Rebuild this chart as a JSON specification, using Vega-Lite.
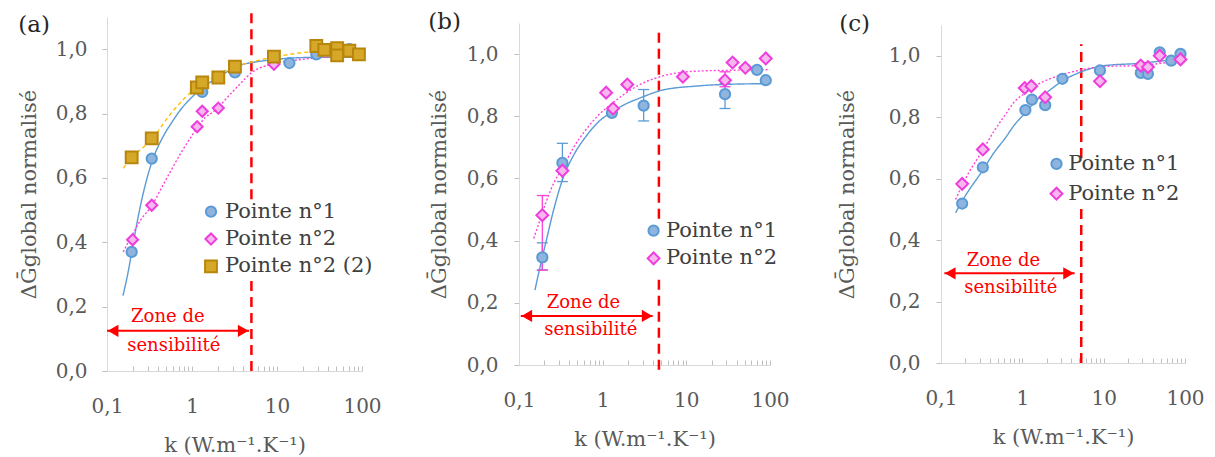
{
  "$schema": "https://vega.github.io/schema/vega-lite/v6.json",
  "background": "white",
  "padding": {"left": 18, "top": 10, "right": 4, "bottom": 0},
  "spacing": 46,
  "center": true,
  "config": {
    "font": "DejaVu Serif",
    "view": {"stroke": null},
    "axis": {
      "grid": false,
      "domainColor": "#d9d9d9",
      "tickColor": "#bfbfbf",
      "labelFont": "DejaVu Serif",
      "labelFontSize": 20,
      "labelColor": "#595959",
      "titleFont": "DejaVu Serif",
      "titleFontSize": 21,
      "titleFontWeight": "normal",
      "titleColor": "#595959",
      "labelOverlap": false,
      "labelFlush": false
    },
    "axisX": {"tickSize": -5, "labelPadding": 30, "titlePadding": 18},
    "axisY": {"tickSize": 5, "labelPadding": 15, "titlePadding": 16},
    "title": {"font": "DejaVu Serif", "fontSize": 23, "fontWeight": "normal", "color": "#262626", "anchor": "start", "frame": "bounds", "offset": -26}
  },
  "datasets": {
    "pts_a": [
      {"k": 0.195, "g": 0.37, "serie": "Pointe n°1"},
      {"k": 0.336, "g": 0.66, "serie": "Pointe n°1"},
      {"k": 1.32, "g": 0.867, "serie": "Pointe n°1"},
      {"k": 3.2, "g": 0.928, "serie": "Pointe n°1"},
      {"k": 14, "g": 0.957, "serie": "Pointe n°1"},
      {"k": 29, "g": 0.984, "serie": "Pointe n°1"},
      {"k": 71, "g": 1.0, "serie": "Pointe n°1"},
      {"k": 92, "g": 0.984, "serie": "Pointe n°1"},
      {"k": 0.2, "g": 0.408, "serie": "Pointe n°2"},
      {"k": 0.336, "g": 0.515, "serie": "Pointe n°2"},
      {"k": 1.15, "g": 0.759, "serie": "Pointe n°2"},
      {"k": 1.32, "g": 0.807, "serie": "Pointe n°2"},
      {"k": 2.04, "g": 0.817, "serie": "Pointe n°2"},
      {"k": 9.2, "g": 0.953, "serie": "Pointe n°2"},
      {"k": 0.195, "g": 0.664, "serie": "Pointe n°2 (2)"},
      {"k": 0.336, "g": 0.723, "serie": "Pointe n°2 (2)"},
      {"k": 1.14, "g": 0.881, "serie": "Pointe n°2 (2)"},
      {"k": 1.32, "g": 0.897, "serie": "Pointe n°2 (2)"},
      {"k": 2.04, "g": 0.912, "serie": "Pointe n°2 (2)"},
      {"k": 3.2, "g": 0.946, "serie": "Pointe n°2 (2)"},
      {"k": 9.2, "g": 0.977, "serie": "Pointe n°2 (2)"},
      {"k": 29, "g": 1.01, "serie": "Pointe n°2 (2)"},
      {"k": 36, "g": 0.998, "serie": "Pointe n°2 (2)"},
      {"k": 51, "g": 1.003, "serie": "Pointe n°2 (2)"},
      {"k": 51, "g": 0.981, "serie": "Pointe n°2 (2)"},
      {"k": 71, "g": 0.995, "serie": "Pointe n°2 (2)"},
      {"k": 92, "g": 0.984, "serie": "Pointe n°2 (2)"}
    ],
    "leg_a": [
      {"k": 1.673, "g": 0.495, "kt": 2.44, "serie": "Pointe n°1"},
      {"k": 1.673, "g": 0.41, "kt": 2.44, "serie": "Pointe n°2"},
      {"k": 1.673, "g": 0.325, "kt": 2.44, "serie": "Pointe n°2 (2)"}
    ],
    "fit_a": [
      {"k": 0.154, "g": 0.234, "courbe": "Pointe n°1"},
      {"k": 0.175, "g": 0.30, "courbe": "Pointe n°1"},
      {"k": 0.2, "g": 0.385, "courbe": "Pointe n°1"},
      {"k": 0.233, "g": 0.48, "courbe": "Pointe n°1"},
      {"k": 0.28, "g": 0.575, "courbe": "Pointe n°1"},
      {"k": 0.336, "g": 0.648, "courbe": "Pointe n°1"},
      {"k": 0.45, "g": 0.725, "courbe": "Pointe n°1"},
      {"k": 0.577, "g": 0.772, "courbe": "Pointe n°1"},
      {"k": 0.75, "g": 0.815, "courbe": "Pointe n°1"},
      {"k": 0.99, "g": 0.85, "courbe": "Pointe n°1"},
      {"k": 1.4, "g": 0.885, "courbe": "Pointe n°1"},
      {"k": 1.87, "g": 0.907, "courbe": "Pointe n°1"},
      {"k": 2.6, "g": 0.93, "courbe": "Pointe n°1"},
      {"k": 3.5, "g": 0.948, "courbe": "Pointe n°1"},
      {"k": 5.5, "g": 0.96, "courbe": "Pointe n°1"},
      {"k": 8.65, "g": 0.967, "courbe": "Pointe n°1"},
      {"k": 21, "g": 0.974, "courbe": "Pointe n°1"},
      {"k": 50, "g": 0.975, "courbe": "Pointe n°1"},
      {"k": 90, "g": 0.975, "courbe": "Pointe n°1"},
      {"k": 0.155, "g": 0.37, "courbe": "Pointe n°2"},
      {"k": 0.2, "g": 0.425, "courbe": "Pointe n°2"},
      {"k": 0.25, "g": 0.47, "courbe": "Pointe n°2"},
      {"k": 0.336, "g": 0.513, "courbe": "Pointe n°2"},
      {"k": 0.45, "g": 0.575, "courbe": "Pointe n°2"},
      {"k": 0.577, "g": 0.627, "courbe": "Pointe n°2"},
      {"k": 0.75, "g": 0.68, "courbe": "Pointe n°2"},
      {"k": 0.99, "g": 0.73, "courbe": "Pointe n°2"},
      {"k": 1.4, "g": 0.785, "courbe": "Pointe n°2"},
      {"k": 1.87, "g": 0.81, "courbe": "Pointe n°2"},
      {"k": 2.6, "g": 0.85, "courbe": "Pointe n°2"},
      {"k": 3.5, "g": 0.886, "courbe": "Pointe n°2"},
      {"k": 5.2, "g": 0.93, "courbe": "Pointe n°2"},
      {"k": 8.65, "g": 0.953, "courbe": "Pointe n°2"},
      {"k": 21, "g": 0.969, "courbe": "Pointe n°2"},
      {"k": 50, "g": 0.978, "courbe": "Pointe n°2"},
      {"k": 90, "g": 0.984, "courbe": "Pointe n°2"},
      {"k": 0.155, "g": 0.63, "courbe": "Pointe n°2 (2)"},
      {"k": 0.2, "g": 0.665, "courbe": "Pointe n°2 (2)"},
      {"k": 0.336, "g": 0.72, "courbe": "Pointe n°2 (2)"},
      {"k": 0.577, "g": 0.803, "courbe": "Pointe n°2 (2)"},
      {"k": 0.8, "g": 0.845, "courbe": "Pointe n°2 (2)"},
      {"k": 1.08, "g": 0.876, "courbe": "Pointe n°2 (2)"},
      {"k": 1.6, "g": 0.905, "courbe": "Pointe n°2 (2)"},
      {"k": 2.3, "g": 0.93, "courbe": "Pointe n°2 (2)"},
      {"k": 3.5, "g": 0.948, "courbe": "Pointe n°2 (2)"},
      {"k": 5.5, "g": 0.963, "courbe": "Pointe n°2 (2)"},
      {"k": 8.65, "g": 0.974, "courbe": "Pointe n°2 (2)"},
      {"k": 21, "g": 0.99, "courbe": "Pointe n°2 (2)"},
      {"k": 50, "g": 0.997, "courbe": "Pointe n°2 (2)"},
      {"k": 90, "g": 1.0, "courbe": "Pointe n°2 (2)"}
    ],
    "pts_b": [
      {"k": 0.19, "g": 0.346, "serie": "Pointe n°1"},
      {"k": 0.33, "g": 0.65, "serie": "Pointe n°1"},
      {"k": 1.29, "g": 0.811, "serie": "Pointe n°1"},
      {"k": 3.09, "g": 0.834, "serie": "Pointe n°1"},
      {"k": 29, "g": 0.871, "serie": "Pointe n°1"},
      {"k": 70, "g": 0.949, "serie": "Pointe n°1"},
      {"k": 89, "g": 0.916, "serie": "Pointe n°1"},
      {"k": 0.19, "g": 0.482, "serie": "Pointe n°2"},
      {"k": 0.33, "g": 0.625, "serie": "Pointe n°2"},
      {"k": 1.1, "g": 0.876, "serie": "Pointe n°2"},
      {"k": 1.33, "g": 0.825, "serie": "Pointe n°2"},
      {"k": 1.97, "g": 0.902, "serie": "Pointe n°2"},
      {"k": 9.1, "g": 0.927, "serie": "Pointe n°2"},
      {"k": 29, "g": 0.916, "serie": "Pointe n°2"},
      {"k": 35.7, "g": 0.973, "serie": "Pointe n°2"},
      {"k": 50.7, "g": 0.956, "serie": "Pointe n°2"},
      {"k": 89, "g": 0.986, "serie": "Pointe n°2"}
    ],
    "leg_b": [
      {"k": 4.06, "g": 0.432, "kt": 5.7, "serie": "Pointe n°1"},
      {"k": 4.06, "g": 0.343, "kt": 5.7, "serie": "Pointe n°2"}
    ],
    "err_b": [
      {"k": 0.19, "lo": 0.306, "hi": 0.393, "courbe": "Pointe n°1"},
      {"k": 0.33, "lo": 0.59, "hi": 0.713, "courbe": "Pointe n°1"},
      {"k": 3.09, "lo": 0.785, "hi": 0.886, "courbe": "Pointe n°1"},
      {"k": 29, "lo": 0.825, "hi": 0.905, "courbe": "Pointe n°1"},
      {"k": 0.19, "lo": 0.305, "hi": 0.545, "courbe": "Pointe n°2"},
      {"k": 29, "lo": 0.895, "hi": 0.943, "courbe": "Pointe n°2"}
    ],
    "fit_b": [
      {"k": 0.155, "g": 0.241, "courbe": "Pointe n°1"},
      {"k": 0.18, "g": 0.32, "courbe": "Pointe n°1"},
      {"k": 0.208, "g": 0.391, "courbe": "Pointe n°1"},
      {"k": 0.26, "g": 0.5, "courbe": "Pointe n°1"},
      {"k": 0.33, "g": 0.595, "courbe": "Pointe n°1"},
      {"k": 0.45, "g": 0.675, "courbe": "Pointe n°1"},
      {"k": 0.627, "g": 0.734, "courbe": "Pointe n°1"},
      {"k": 0.9, "g": 0.783, "courbe": "Pointe n°1"},
      {"k": 1.29, "g": 0.814, "courbe": "Pointe n°1"},
      {"k": 1.9, "g": 0.84, "courbe": "Pointe n°1"},
      {"k": 2.69, "g": 0.857, "courbe": "Pointe n°1"},
      {"k": 5.15, "g": 0.884, "courbe": "Pointe n°1"},
      {"k": 12.9, "g": 0.897, "courbe": "Pointe n°1"},
      {"k": 34, "g": 0.903, "courbe": "Pointe n°1"},
      {"k": 100, "g": 0.905, "courbe": "Pointe n°1"},
      {"k": 0.15, "g": 0.407, "courbe": "Pointe n°2"},
      {"k": 0.18, "g": 0.47, "courbe": "Pointe n°2"},
      {"k": 0.208, "g": 0.52, "courbe": "Pointe n°2"},
      {"k": 0.26, "g": 0.585, "courbe": "Pointe n°2"},
      {"k": 0.33, "g": 0.632, "courbe": "Pointe n°2"},
      {"k": 0.45, "g": 0.7, "courbe": "Pointe n°2"},
      {"k": 0.627, "g": 0.756, "courbe": "Pointe n°2"},
      {"k": 0.9, "g": 0.805, "courbe": "Pointe n°2"},
      {"k": 1.29, "g": 0.841, "courbe": "Pointe n°2"},
      {"k": 1.9, "g": 0.875, "courbe": "Pointe n°2"},
      {"k": 2.69, "g": 0.9, "courbe": "Pointe n°2"},
      {"k": 5.15, "g": 0.929, "courbe": "Pointe n°2"},
      {"k": 12.9, "g": 0.945, "courbe": "Pointe n°2"},
      {"k": 34, "g": 0.948, "courbe": "Pointe n°2"},
      {"k": 100, "g": 0.95, "courbe": "Pointe n°2"}
    ],
    "pts_c": [
      {"k": 0.182, "g": 0.519, "serie": "Pointe n°1"},
      {"k": 0.327, "g": 0.637, "serie": "Pointe n°1"},
      {"k": 1.09, "g": 0.823, "serie": "Pointe n°1"},
      {"k": 1.31, "g": 0.857, "serie": "Pointe n°1"},
      {"k": 1.91, "g": 0.839, "serie": "Pointe n°1"},
      {"k": 3.11, "g": 0.925, "serie": "Pointe n°1"},
      {"k": 9.0, "g": 0.952, "serie": "Pointe n°1"},
      {"k": 28.6, "g": 0.944, "serie": "Pointe n°1"},
      {"k": 35, "g": 0.941, "serie": "Pointe n°1"},
      {"k": 48.9, "g": 1.011, "serie": "Pointe n°1"},
      {"k": 67.7, "g": 0.984, "serie": "Pointe n°1"},
      {"k": 88, "g": 1.006, "serie": "Pointe n°1"},
      {"k": 0.182, "g": 0.583, "serie": "Pointe n°2"},
      {"k": 0.327, "g": 0.695, "serie": "Pointe n°2"},
      {"k": 1.07, "g": 0.895, "serie": "Pointe n°2"},
      {"k": 1.29, "g": 0.901, "serie": "Pointe n°2"},
      {"k": 1.91, "g": 0.865, "serie": "Pointe n°2"},
      {"k": 9.0, "g": 0.917, "serie": "Pointe n°2"},
      {"k": 28.6, "g": 0.968, "serie": "Pointe n°2"},
      {"k": 35, "g": 0.963, "serie": "Pointe n°2"},
      {"k": 48.9, "g": 1.0, "serie": "Pointe n°2"},
      {"k": 88, "g": 0.988, "serie": "Pointe n°2"}
    ],
    "leg_c": [
      {"k": 2.63, "g": 0.648, "kt": 3.66, "serie": "Pointe n°1"},
      {"k": 2.63, "g": 0.551, "kt": 3.66, "serie": "Pointe n°2"}
    ],
    "fit_c": [
      {"k": 0.151, "g": 0.489, "courbe": "Pointe n°1"},
      {"k": 0.2, "g": 0.545, "courbe": "Pointe n°1"},
      {"k": 0.32, "g": 0.624, "courbe": "Pointe n°1"},
      {"k": 0.45, "g": 0.685, "courbe": "Pointe n°1"},
      {"k": 0.62, "g": 0.733, "courbe": "Pointe n°1"},
      {"k": 0.8, "g": 0.775, "courbe": "Pointe n°1"},
      {"k": 1.09, "g": 0.814, "courbe": "Pointe n°1"},
      {"k": 1.5, "g": 0.855, "courbe": "Pointe n°1"},
      {"k": 2.1, "g": 0.885, "courbe": "Pointe n°1"},
      {"k": 3.2, "g": 0.92, "courbe": "Pointe n°1"},
      {"k": 4.9, "g": 0.944, "courbe": "Pointe n°1"},
      {"k": 10.4, "g": 0.968, "courbe": "Pointe n°1"},
      {"k": 26.5, "g": 0.975, "courbe": "Pointe n°1"},
      {"k": 60, "g": 0.985, "courbe": "Pointe n°1"},
      {"k": 99, "g": 0.993, "courbe": "Pointe n°1"},
      {"k": 0.151, "g": 0.532, "courbe": "Pointe n°2"},
      {"k": 0.2, "g": 0.6, "courbe": "Pointe n°2"},
      {"k": 0.32, "g": 0.689, "courbe": "Pointe n°2"},
      {"k": 0.45, "g": 0.755, "courbe": "Pointe n°2"},
      {"k": 0.62, "g": 0.809, "courbe": "Pointe n°2"},
      {"k": 0.8, "g": 0.85, "courbe": "Pointe n°2"},
      {"k": 1.09, "g": 0.879, "courbe": "Pointe n°2"},
      {"k": 1.5, "g": 0.905, "courbe": "Pointe n°2"},
      {"k": 2.1, "g": 0.923, "courbe": "Pointe n°2"},
      {"k": 3.2, "g": 0.94, "courbe": "Pointe n°2"},
      {"k": 4.9, "g": 0.952, "courbe": "Pointe n°2"},
      {"k": 10.4, "g": 0.965, "courbe": "Pointe n°2"},
      {"k": 26.5, "g": 0.968, "courbe": "Pointe n°2"},
      {"k": 60, "g": 0.978, "courbe": "Pointe n°2"},
      {"k": 99, "g": 0.988, "courbe": "Pointe n°2"}
    ]
  },
  "resolve": {
    "scale": {"color": "independent", "fill": "independent", "stroke": "independent", "shape": "independent", "strokeDash": "independent", "size": "independent"}
  },
  "hconcat": [
    {
      "title": "(a)",
      "width": 255,
      "height": 354,
      "encoding": {
        "x": {"field": "k", "type": "quantitative", "scale": {"type": "log", "domain": [0.1, 100]},
          "axis": {"title": "k (W.m⁻¹.K⁻¹)", "values": [0.1, 0.2, 0.3, 0.4, 0.5, 0.6, 0.7, 0.8, 0.9, 1, 2, 3, 4, 5, 6, 7, 8, 9, 10, 20, 30, 40, 50, 60, 70, 80, 90, 100],
            "labelExpr": "datum.value == 0.1 ? '0,1' : (datum.value == 1 || datum.value == 10 || datum.value == 100 ? format(datum.value, 'd') : '')"}},
        "y": {"field": "g", "type": "quantitative", "scale": {"domain": [0, 1.1]},
          "axis": {"title": "ΔḠglobal normalisé", "values": [0, 0.2, 0.4, 0.6, 0.8, 1], "labelExpr": "replace(format(datum.value, '.1f'), '.', ',')"}}
      },
      "layer": [
        {
          "data": {"values": [{"k": 5, "g": 0, "g2": 0.286}, {"k": 5, "g": 0.534, "g2": 1.115}]},
          "mark": {"type": "rule", "color": "#ff0000", "strokeWidth": 2.5, "strokeDash": [10, 6], "clip": false},
          "encoding": {"y2": {"field": "g2"}}
        },
        {
          "data": {"values": [{"k": 0.1, "k2": 4.7, "g": 0.125}]},
          "mark": {"type": "rule", "color": "#ff0000", "strokeWidth": 2},
          "encoding": {"x2": {"field": "k2"}}
        },
        {
          "data": {"values": [{"k": 0.118, "g": 0.125}]},
          "mark": {"type": "point", "shape": "triangle-left", "filled": true, "color": "#ff0000", "opacity": 1, "size": 150}
        },
        {
          "data": {"values": [{"k": 4.0, "g": 0.125}]},
          "mark": {"type": "point", "shape": "triangle-right", "filled": true, "color": "#ff0000", "opacity": 1, "size": 150}
        },
        {
          "data": {"values": [{"k": 0.52, "g": 0.168, "txt": "Zone de"}, {"k": 0.61, "g": 0.079, "txt": "sensibilité"}]},
          "mark": {"type": "text", "font": "DejaVu Serif", "fontSize": 18, "color": "#ff0000"},
          "encoding": {"text": {"field": "txt"}}
        },
        {
          "data": {"name": "fit_a"},
          "mark": {"type": "line", "interpolate": "monotone", "strokeWidth": 1.4},
          "encoding": {
            "color": {"field": "courbe", "type": "nominal", "scale": {"domain": ["Pointe n°1", "Pointe n°2", "Pointe n°2 (2)"], "range": ["#5b9bd5", "#ff40d9", "#ffc000"]}, "legend": null},
            "strokeDash": {"field": "courbe", "type": "nominal", "scale": {"domain": ["Pointe n°1", "Pointe n°2", "Pointe n°2 (2)"], "range": [[1, 0], [2, 2], [4, 3]]}, "legend": null}
          }
        },
        {
          "data": {"name": "pts_a"},
          "mark": {"type": "point", "filled": true, "opacity": 1, "strokeWidth": 2},
          "encoding": {
            "shape": {"field": "serie", "type": "nominal", "scale": {"domain": ["Pointe n°1", "Pointe n°2", "Pointe n°2 (2)"], "range": ["circle", "diamond", "square"]}, "legend": null},
            "size": {"field": "serie", "type": "nominal", "scale": {"domain": ["Pointe n°1", "Pointe n°2", "Pointe n°2 (2)"], "range": [105, 140, 90]}, "legend": null},
            "fill": {"field": "serie", "type": "nominal", "scale": {"domain": ["Pointe n°1", "Pointe n°2", "Pointe n°2 (2)"], "range": ["#8fb4de", "#f8b6ee", "#d6a82a"]}, "legend": null},
            "stroke": {"field": "serie", "type": "nominal", "scale": {"domain": ["Pointe n°1", "Pointe n°2", "Pointe n°2 (2)"], "range": ["#5b9bd5", "#ee3ddd", "#b8860b"]}, "legend": null}
          }
        },
        {
          "data": {"name": "leg_a"},
          "mark": {"type": "point", "filled": true, "opacity": 1, "strokeWidth": 2},
          "encoding": {
            "shape": {"field": "serie", "type": "nominal", "legend": null},
            "size": {"field": "serie", "type": "nominal", "legend": null},
            "fill": {"field": "serie", "type": "nominal", "legend": null},
            "stroke": {"field": "serie", "type": "nominal", "legend": null}
          }
        },
        {
          "data": {"name": "leg_a"},
          "mark": {"type": "text", "align": "left", "baseline": "middle", "font": "DejaVu Serif", "fontSize": 21, "color": "#404040"},
          "encoding": {"x": {"field": "kt", "type": "quantitative"}, "text": {"field": "serie"}}
        }
      ]
    },
    {
      "title": {"text": "(b)", "offset": -11},
      "width": 251,
      "height": 342,
      "encoding": {
        "x": {"field": "k", "type": "quantitative", "scale": {"type": "log", "domain": [0.1, 100]},
          "axis": {"title": "k (W.m⁻¹.K⁻¹)", "values": [0.1, 0.2, 0.3, 0.4, 0.5, 0.6, 0.7, 0.8, 0.9, 1, 2, 3, 4, 5, 6, 7, 8, 9, 10, 20, 30, 40, 50, 60, 70, 80, 90, 100],
            "labelExpr": "datum.value == 0.1 ? '0,1' : (datum.value == 1 || datum.value == 10 || datum.value == 100 ? format(datum.value, 'd') : '')"}},
        "y": {"field": "g", "type": "quantitative", "scale": {"domain": [0, 1.1]},
          "axis": {"title": "ΔḠglobal normalisé", "values": [0, 0.2, 0.4, 0.6, 0.8, 1], "labelExpr": "replace(format(datum.value, '.1f'), '.', ',')", "labelPadding": 16, "titlePadding": 17}}
      },
      "layer": [
        {
          "data": {"values": [{"k": 4.7, "g": -0.015, "g2": 0.284}, {"k": 4.7, "g": 0.47, "g2": 1.078}]},
          "mark": {"type": "rule", "color": "#ff0000", "strokeWidth": 2.5, "strokeDash": [10, 6], "clip": false},
          "encoding": {"y2": {"field": "g2"}}
        },
        {
          "data": {"values": [{"k": 0.105, "k2": 3.96, "g": 0.158}]},
          "mark": {"type": "rule", "color": "#ff0000", "strokeWidth": 2},
          "encoding": {"x2": {"field": "k2"}}
        },
        {
          "data": {"values": [{"k": 0.124, "g": 0.158}]},
          "mark": {"type": "point", "shape": "triangle-left", "filled": true, "color": "#ff0000", "opacity": 1, "size": 150}
        },
        {
          "data": {"values": [{"k": 3.4, "g": 0.158}]},
          "mark": {"type": "point", "shape": "triangle-right", "filled": true, "color": "#ff0000", "opacity": 1, "size": 150}
        },
        {
          "data": {"values": [{"k": 0.59, "g": 0.2, "txt": "Zone de"}, {"k": 0.72, "g": 0.113, "txt": "sensibilité"}]},
          "mark": {"type": "text", "font": "DejaVu Serif", "fontSize": 18, "color": "#ff0000"},
          "encoding": {"text": {"field": "txt"}}
        },
        {
          "data": {"name": "fit_b"},
          "mark": {"type": "line", "interpolate": "monotone", "strokeWidth": 1.4},
          "encoding": {
            "color": {"field": "courbe", "type": "nominal", "scale": {"domain": ["Pointe n°1", "Pointe n°2"], "range": ["#5b9bd5", "#ff40d9"]}, "legend": null},
            "strokeDash": {"field": "courbe", "type": "nominal", "scale": {"domain": ["Pointe n°1", "Pointe n°2"], "range": [[1, 0], [2, 2]]}, "legend": null}
          }
        },
        {
          "data": {"name": "err_b"},
          "mark": {"type": "rule", "strokeWidth": 1.3},
          "encoding": {
            "y": {"field": "lo"},
            "y2": {"field": "hi"},
            "color": {"field": "courbe", "type": "nominal", "scale": {"domain": ["Pointe n°1", "Pointe n°2"], "range": ["#5b9bd5", "#ff40d9"]}, "legend": null}
          }
        },
        {
          "data": {"name": "err_b"},
          "transform": [{"fold": ["lo", "hi"], "as": ["end", "g"]}],
          "mark": {"type": "tick", "orient": "horizontal", "size": 11, "thickness": 1.3, "opacity": 1},
          "encoding": {
            "color": {"field": "courbe", "type": "nominal", "scale": {"domain": ["Pointe n°1", "Pointe n°2"], "range": ["#5b9bd5", "#ff40d9"]}, "legend": null}
          }
        },
        {
          "data": {"name": "pts_b"},
          "mark": {"type": "point", "filled": true, "opacity": 1, "strokeWidth": 2},
          "encoding": {
            "shape": {"field": "serie", "type": "nominal", "scale": {"domain": ["Pointe n°1", "Pointe n°2"], "range": ["circle", "diamond"]}, "legend": null},
            "size": {"field": "serie", "type": "nominal", "scale": {"domain": ["Pointe n°1", "Pointe n°2"], "range": [105, 140]}, "legend": null},
            "fill": {"field": "serie", "type": "nominal", "scale": {"domain": ["Pointe n°1", "Pointe n°2"], "range": ["#8fb4de", "#f8b6ee"]}, "legend": null},
            "stroke": {"field": "serie", "type": "nominal", "scale": {"domain": ["Pointe n°1", "Pointe n°2"], "range": ["#5b9bd5", "#ee3ddd"]}, "legend": null}
          }
        },
        {
          "data": {"name": "leg_b"},
          "mark": {"type": "point", "filled": true, "opacity": 1, "strokeWidth": 2},
          "encoding": {
            "shape": {"field": "serie", "type": "nominal", "legend": null},
            "size": {"field": "serie", "type": "nominal", "legend": null},
            "fill": {"field": "serie", "type": "nominal", "legend": null},
            "stroke": {"field": "serie", "type": "nominal", "legend": null}
          }
        },
        {
          "data": {"name": "leg_b"},
          "mark": {"type": "text", "align": "left", "baseline": "middle", "font": "DejaVu Serif", "fontSize": 21, "color": "#404040"},
          "encoding": {"x": {"field": "kt", "type": "quantitative"}, "text": {"field": "serie"}}
        }
      ]
    },
    {
      "title": {"text": "(c)", "offset": -11, "dx": 3},
      "width": 244,
      "height": 338,
      "encoding": {
        "x": {"field": "k", "type": "quantitative", "scale": {"type": "log", "domain": [0.1, 100]},
          "axis": {"title": "k (W.m⁻¹.K⁻¹)", "values": [0.1, 0.2, 0.3, 0.4, 0.5, 0.6, 0.7, 0.8, 0.9, 1, 2, 3, 4, 5, 6, 7, 8, 9, 10, 20, 30, 40, 50, 60, 70, 80, 90, 100],
            "labelExpr": "datum.value == 0.1 ? '0,1' : (datum.value == 1 || datum.value == 10 || datum.value == 100 ? format(datum.value, 'd') : '')"}},
        "y": {"field": "g", "type": "quantitative", "scale": {"domain": [0, 1.1]},
          "axis": {"title": "ΔḠglobal normalisé", "values": [0, 0.2, 0.4, 0.6, 0.8, 1], "labelExpr": "replace(format(datum.value, '.1f'), '.', ',')", "labelPadding": 16, "titlePadding": 31}}
      },
      "layer": [
        {
          "data": {"values": [{"k": 5.3, "g": 0.0, "g2": 0.517}, {"k": 5.3, "g": 0.667, "g2": 1.037}]},
          "mark": {"type": "rule", "color": "#ff0000", "strokeWidth": 2.5, "strokeDash": [10, 6], "clip": false},
          "encoding": {"y2": {"field": "g2"}}
        },
        {
          "data": {"values": [{"k": 0.11, "k2": 4.4, "g": 0.292}]},
          "mark": {"type": "rule", "color": "#ff0000", "strokeWidth": 2},
          "encoding": {"x2": {"field": "k2"}}
        },
        {
          "data": {"values": [{"k": 0.13, "g": 0.292}]},
          "mark": {"type": "point", "shape": "triangle-left", "filled": true, "color": "#ff0000", "opacity": 1, "size": 150}
        },
        {
          "data": {"values": [{"k": 3.7, "g": 0.292}]},
          "mark": {"type": "point", "shape": "triangle-right", "filled": true, "color": "#ff0000", "opacity": 1, "size": 150}
        },
        {
          "data": {"values": [{"k": 0.585, "g": 0.332, "txt": "Zone de"}, {"k": 0.72, "g": 0.245, "txt": "sensibilité"}]},
          "mark": {"type": "text", "font": "DejaVu Serif", "fontSize": 18, "color": "#ff0000"},
          "encoding": {"text": {"field": "txt"}}
        },
        {
          "data": {"name": "fit_c"},
          "mark": {"type": "line", "interpolate": "monotone", "strokeWidth": 1.4},
          "encoding": {
            "color": {"field": "courbe", "type": "nominal", "scale": {"domain": ["Pointe n°1", "Pointe n°2"], "range": ["#5b9bd5", "#ff40d9"]}, "legend": null},
            "strokeDash": {"field": "courbe", "type": "nominal", "scale": {"domain": ["Pointe n°1", "Pointe n°2"], "range": [[1, 0], [2, 2]]}, "legend": null}
          }
        },
        {
          "data": {"name": "pts_c"},
          "mark": {"type": "point", "filled": true, "opacity": 1, "strokeWidth": 2},
          "encoding": {
            "shape": {"field": "serie", "type": "nominal", "scale": {"domain": ["Pointe n°1", "Pointe n°2"], "range": ["circle", "diamond"]}, "legend": null},
            "size": {"field": "serie", "type": "nominal", "scale": {"domain": ["Pointe n°1", "Pointe n°2"], "range": [105, 140]}, "legend": null},
            "fill": {"field": "serie", "type": "nominal", "scale": {"domain": ["Pointe n°1", "Pointe n°2"], "range": ["#8fb4de", "#f8b6ee"]}, "legend": null},
            "stroke": {"field": "serie", "type": "nominal", "scale": {"domain": ["Pointe n°1", "Pointe n°2"], "range": ["#5b9bd5", "#ee3ddd"]}, "legend": null}
          }
        },
        {
          "data": {"name": "leg_c"},
          "mark": {"type": "point", "filled": true, "opacity": 1, "strokeWidth": 2},
          "encoding": {
            "shape": {"field": "serie", "type": "nominal", "legend": null},
            "size": {"field": "serie", "type": "nominal", "legend": null},
            "fill": {"field": "serie", "type": "nominal", "legend": null},
            "stroke": {"field": "serie", "type": "nominal", "legend": null}
          }
        },
        {
          "data": {"name": "leg_c"},
          "mark": {"type": "text", "align": "left", "baseline": "middle", "font": "DejaVu Serif", "fontSize": 21, "color": "#404040"},
          "encoding": {"x": {"field": "kt", "type": "quantitative"}, "text": {"field": "serie"}}
        }
      ]
    }
  ]
}
